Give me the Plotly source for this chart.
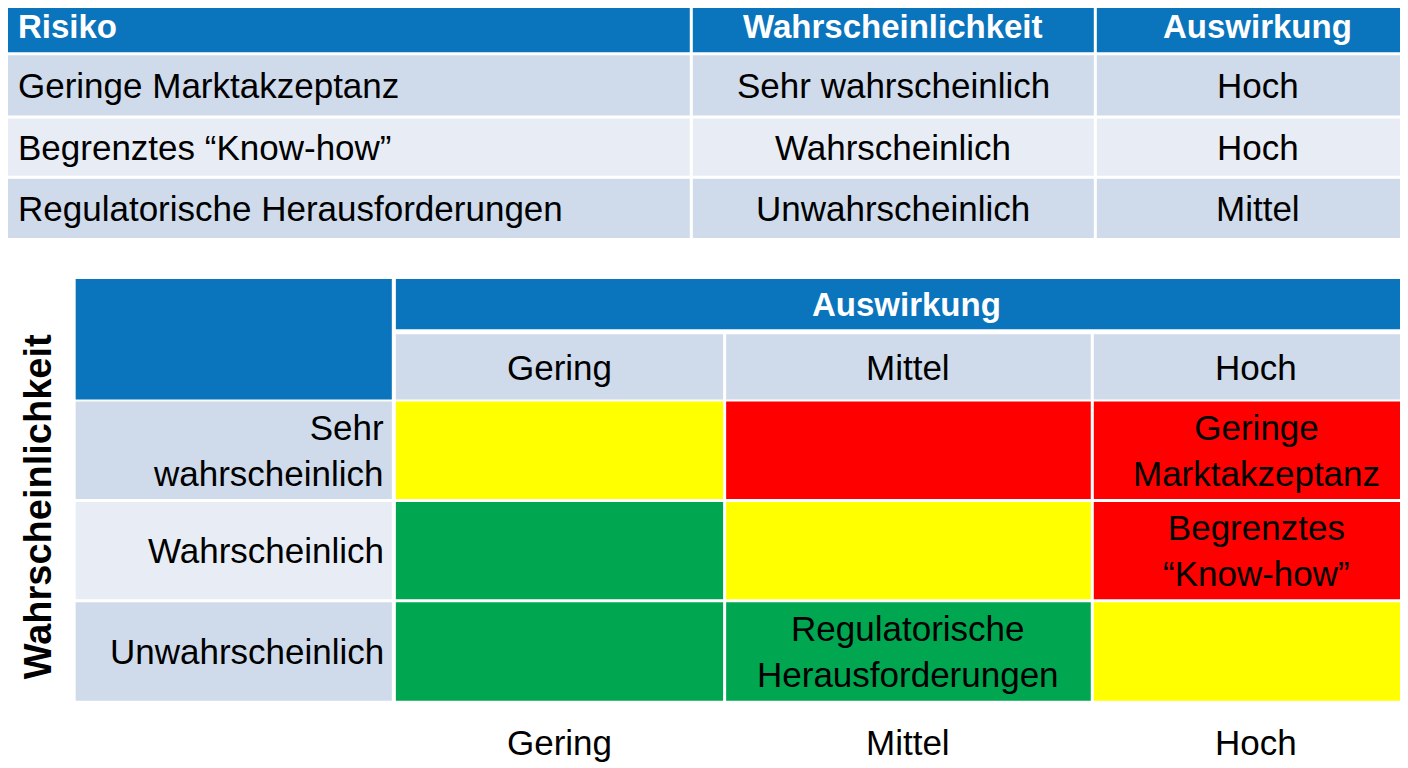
import plotly.graph_objects as go

# top table
risks = ["Geringe Marktakzeptanz", "Begrenztes “Know-how”", "Regulatorische Herausforderungen"]
likelihood = ["Sehr wahrscheinlich", "Wahrscheinlich", "Unwahrscheinlich"]
impact = ["Hoch", "Hoch", "Mittel"]
table_header = ["Risiko", "Wahrscheinlichkeit", "Auswirkung"]

# matrix
impact_levels = ["Gering", "Mittel", "Hoch"]
likelihood_rows = ["Sehr<br>wahrscheinlich", "Wahrscheinlich", "Unwahrscheinlich"]
matrix_colors = [["yellow", "red", "red"],
                 ["green", "yellow", "red"],
                 ["green", "green", "yellow"]]
matrix_text = [["", "", "Geringe<br>Marktakzeptanz"],
               ["", "", "Begrenztes<br>“Know-how”"],
               ["", "Regulatorische<br>Herausforderungen", ""]]

BLUE = "#0a74bd"
LIGHT = "#cfdbeb"
LIGHTER = "#e8edf5"
COL = {"yellow": "#ffff00", "red": "#ff0000", "green": "#00a650"}
FONT = "Liberation Sans, Arial, sans-serif"

fig = go.Figure()
shapes, ann = [], []

def box(x0, x1, y0, y1, color):
    shapes.append(dict(type="rect", x0=x0, x1=x1, y0=y0, y1=y1, fillcolor=color,
                       line=dict(width=0), layer="below"))

def txt(x, y, s, size=35, color="black", bold=False, anchor="center", angle=0, align="center"):
    if bold:
        s = "<b>" + s + "</b>"
    ann.append(dict(x=x, y=y, text=s, showarrow=False, xanchor=anchor, yanchor="middle",
                    textangle=angle, align=align,
                    font=dict(family=FONT, size=size, color=color)))

# top table geometry
tcols = [(3, 683), (686, 1083), (1086, 1405)]
trows = [(55, 115), (118, 175), (178, 237)]
for i, (x0, x1) in enumerate(tcols):
    box(x0, x1, 0, 52, BLUE)
    if i == 0:
        txt(16, 26, table_header[i], 33, "white", True, "left")
    else:
        txt((x0 + x1) / 2, 26, table_header[i], 33, "white", True)
for r, (y0, y1) in enumerate(trows):
    c = LIGHT if r % 2 == 0 else LIGHTER
    for x0, x1 in tcols:
        box(x0, x1, y0, y1, c)
    ym = (y0 + y1) / 2
    txt(16, ym, risks[r], anchor="left")
    txt(sum(tcols[1]) / 2, ym, likelihood[r])
    txt(sum(tcols[2]) / 2, ym, impact[r])

# matrix geometry
mcols = [(392, 716), (719, 1080), (1083, 1405)]
mrows = [(400, 497), (500, 597), (600, 698)]
box(75, 388, 278, 398, BLUE)
box(392, 1405, 278, 328, BLUE)
txt(898, 303, "Auswirkung", 33, "white", True)
for j, (x0, x1) in enumerate(mcols):
    box(x0, x1, 333, 398, LIGHT)
    txt((x0 + x1) / 2, 366, impact_levels[j])
    txt((x0 + x1) / 2, 740, impact_levels[j])
for r, (y0, y1) in enumerate(mrows):
    box(75, 388, y0, y1, LIGHT if r % 2 == 0 else LIGHTER)
    ym = (y0 + y1) / 2
    txt(382, ym, likelihood_rows[r], anchor="right", align="right")
    for j, (x0, x1) in enumerate(mcols):
        box(x0, x1, y0, y1, COL[matrix_colors[r][j]])
        if matrix_text[r][j]:
            txt((x0 + x1) / 2, ym, matrix_text[r][j])
txt(38, 505, "Wahrscheinlichkeit", 38, bold=True, angle=-90)

# ranges offset to compensate for page margin so data units match pixels
fig.update_layout(width=1408, height=768, margin=dict(l=0, r=0, t=0, b=0),
                  paper_bgcolor="white", plot_bgcolor="white",
                  shapes=shapes, annotations=ann, showlegend=False,
                  xaxis=dict(range=[8, 1402], visible=False, fixedrange=True),
                  yaxis=dict(range=[773, 8], visible=False, fixedrange=True))
fig.add_trace(go.Scatter(x=[0], y=[0], mode="markers", marker=dict(opacity=0), hoverinfo="skip"))
fig.write_html("out.html", config={"displayModeBar": False})
